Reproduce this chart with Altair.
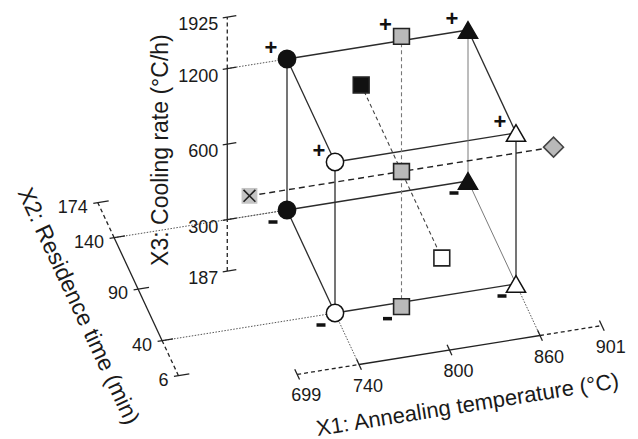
import math
import altair as alt
import pandas as pd

# ---------------- data ----------------
x1_ticks = [699, 740, 800, 860, 901]      # X1: Annealing temperature (°C)
x2_ticks = [6, 40, 90, 140, 174]          # X2: Residence time (min)
x3_ticks = [187, 300, 600, 1200, 1925]    # X3: Cooling rate (°C/h)

# design points, coded levels (X1, X2, X3) as drawn
pt_x1 = [-1, -1, -1, -1, 1, 1, 1, 1, 0, 0, 0, 0, 0, 1.68, -1.68]
pt_x2 = [1, 1, -1, -1, 1, 1, -1, -1, 0, 0, 0, 1.68, -1.68, 0, 0]
pt_x3 = [1, -1, 1, -1, 1, -1, 1, -1, 1.79, 0, -1.79, 0, 0, 0, 0]
pt_shape = ["circle", "circle", "circle", "circle",
            "triangle-up", "triangle-up", "triangle-up", "triangle-up",
            "square", "square", "square", "square", "square", "diamond", "cross-x"]
pt_fill = ["#111111", "#111111", "#ffffff", "#ffffff",
           "#111111", "#111111", "#ffffff", "#ffffff",
           "#b9b9b9", "#b9b9b9", "#b9b9b9", "#111111", "#ffffff", "#b9b9b9", "#c4c4c4"]

# ---------------- oblique projection (style) ----------------
O = (401.5, 171.5)
E1 = (90.5, -14.5)
E2 = (-24.0, -51.5)
E3 = (0.0, -75.5)


def proj(a, b, c):
    return (O[0] + a * E1[0] + b * E2[0] + c * E3[0],
            O[1] + a * E1[1] + b * E2[1] + c * E3[1])


def code1(v):
    return (v - 800) / 60.0


def code2(v):
    return (v - 90) / 50.0


def code3(v):
    return math.log2(v / 600.0)


AX3 = (-1.66, 1.0)   # X3 axis at (X1, X2)
AX2 = (-2.91, -1.0)  # X2 axis at (X1, X3)
AX1 = (-2.0, -1.0)   # X1 axis at (X2, X3)

segs = []


def seg(p, q, g):
    x, y = proj(*p)
    x2, y2 = proj(*q)
    segs.append(dict(x=x, y=y, x2=x2, y2=y2, g=g))


# cube edges
corners = [(a, b, c) for a in (-1, 1) for b in (-1, 1) for c in (-1, 1)]
light = {((1, 1, -1), (1, 1, 1)), ((1, -1, -1), (1, 1, -1))}
for i, p in enumerate(corners):
    for q in corners[i + 1:]:
        if sum(1 for u, v in zip(p, q) if u != v) == 1:
            seg(p, q, "light" if (p, q) in light or (q, p) in light else "edge")

# axial lines
seg((pt_x1[14], 0, 0), (pt_x1[13], 0, 0), "axial1")
seg((0, 0, pt_x3[8]), (0, 0, pt_x3[10]), "axial3")
seg((0, pt_x2[11], 0), (0, pt_x2[12], 0), "axial2")

# axes
seg((code1(740), AX1[0], AX1[1]), (code1(860), AX1[0], AX1[1]), "axis")
seg((code1(699), AX1[0], AX1[1]), (code1(740), AX1[0], AX1[1]), "axisdash")
seg((code1(860), AX1[0], AX1[1]), (code1(901), AX1[0], AX1[1]), "axisdash")
seg((AX2[0], code2(40), AX2[1]), (AX2[0], code2(140), AX2[1]), "axis")
seg((AX2[0], code2(6), AX2[1]), (AX2[0], code2(40), AX2[1]), "axisdash")
seg((AX2[0], code2(140), AX2[1]), (AX2[0], code2(174), AX2[1]), "axisdash")
seg((AX3[0], AX3[1], code3(300)), (AX3[0], AX3[1], code3(1200)), "axis")
seg((AX3[0], AX3[1], code3(187)), (AX3[0], AX3[1], code3(300)), "axisdash")
seg((AX3[0], AX3[1], code3(1200)), (AX3[0], AX3[1], code3(1925)), "axisdash")

# ticks
for v in x1_ticks:
    a = code1(v)
    seg((a, AX1[0] - 0.1, AX1[1]), (a, AX1[0] + 0.1, AX1[1]), "tick")
for v in x2_ticks:
    b = code2(v)
    seg((AX2[0] - 0.05, b, AX2[1]), (AX2[0] + 0.12, b, AX2[1]), "tick")
for v in x3_ticks:
    c = code3(v)
    seg((AX3[0] - 0.05, AX3[1], c), (AX3[0] + 0.1, AX3[1], c), "tick")

# dotted guide lines from axes to the cube
seg((-1, AX1[0], AX1[1]), (-1, -1, -1), "dot")
seg((1, AX1[0], AX1[1]), (1, -1, -1), "dot")
seg((AX2[0], 1, AX2[1]), (-1, 1, -1), "dot")
seg((AX2[0], -1, AX2[1]), (-1, -1, -1), "dot")
seg((AX3[0], AX3[1], 1), (-1, 1, 1), "dot")
seg((AX3[0], AX3[1], -1), (-1, 1, -1), "dot")

segdf = pd.DataFrame(segs)

pts = []
for a, b, c, s, f in zip(pt_x1, pt_x2, pt_x3, pt_shape, pt_fill):
    x, y = proj(a, b, c)
    pts.append(dict(x=x, y=y, shape=s, fill=f, c=c))
ptdf = pd.DataFrame(pts)

# tick labels
labs = []
for v in x1_ticks:
    x, y = proj(code1(v), AX1[0], AX1[1])
    labs.append(dict(x=x + 9, y=y + 22, t=str(v), al="center"))
for v in x2_ticks:
    x, y = proj(AX2[0], code2(v), AX2[1])
    labs.append(dict(x=x - 10, y=y + 5, t=str(v), al="right"))
for v in x3_ticks:
    x, y = proj(AX3[0], AX3[1], code3(v))
    labs.append(dict(x=x - 9, y=y + 8, t=str(v), al="right"))
labdf = pd.DataFrame(labs)

# +/- level marks for the points off the mid plane of X3
plus = ptdf[ptdf.c > 0].assign(x=lambda d: d.x - 16, y=lambda d: d.y - 11, t="+")
minus = ptdf[ptdf.c < 0].assign(xa=lambda d: d.x - 18.5, xb=lambda d: d.x - 9.5,
                                 y=lambda d: d.y + 12)

# axis titles
t1x, t1y = proj(0, AX1[0], AX1[1])
t2x, t2y = proj(AX2[0], 0, AX2[1])
t3x, t3y = proj(AX3[0], AX3[1], 0)
titles = pd.DataFrame([
    dict(x=t1x + 18, y=t1y + 55, t="X1: Annealing temperature (°C)",
         ang=360 - math.degrees(math.atan2(-E1[1], E1[0])), fs=22),
    dict(x=t2x - 60, y=t2y + 17, t="X2: Residence time (min)",
         ang=math.degrees(math.atan2(-E2[1], -E2[0])), fs=23),
    dict(x=t3x - 66, y=t3y + 6, t="X3: Cooling rate (°C/h)", ang=270, fs=23),
])

W, H = 638, 439
X = alt.X("x:Q", scale=alt.Scale(domain=[0, W], nice=False, zero=False), axis=None)
Y = alt.Y("y:Q", scale=alt.Scale(domain=[H, 0], nice=False, zero=False), axis=None)
FONT = "Liberation Sans"


def rules(g, color, width, dash=None):
    kw = dict(color=color, strokeWidth=width)
    if dash:
        kw["strokeDash"] = dash
    return alt.Chart(segdf[segdf.g == g]).mark_rule(**kw).encode(
        x=X, y=Y, x2="x2:Q", y2="y2:Q")


layers = [
    rules("dot", "#555555", 1.0, [1.5, 1.5]),
    rules("edge", "#2b2b2b", 1.3),
    rules("light", "#7a7a7a", 1.0),
    rules("axial3", "#777777", 1.1, [4, 3]),
    rules("axial2", "#444444", 1.1, [4, 3]),
    rules("axial1", "#222222", 1.4, [6, 4]),
    rules("axis", "#222222", 1.3),
    rules("axisdash", "#222222", 1.3, [4, 3]),
    rules("tick", "#222222", 1.3),
]

main = ptdf[ptdf["shape"] != "cross-x"]
xm = ptdf[ptdf["shape"] == "cross-x"]
layers.append(alt.Chart(main[main["shape"] == "circle"]).mark_point(
    filled=True, size=300, stroke="#111111", strokeWidth=1.5, opacity=1).encode(
    x=X, y=Y, shape=alt.Shape("shape:N", scale=None), fill=alt.Fill("fill:N", scale=None)))
layers.append(alt.Chart(main[main["shape"] == "triangle-up"]).mark_point(
    filled=True, size=370, stroke="#111111", strokeWidth=1.5, opacity=1).encode(
    x=X, y=Y, shape=alt.Shape("shape:N", scale=None), fill=alt.Fill("fill:N", scale=None)))
layers.append(alt.Chart(main[main["shape"] == "square"]).mark_point(
    filled=True, size=250, stroke="#222222", strokeWidth=1.6, opacity=1).encode(
    x=X, y=Y, shape=alt.Shape("shape:N", scale=None), fill=alt.Fill("fill:N", scale=None)))
layers.append(alt.Chart(main[main["shape"] == "diamond"]).mark_point(
    filled=True, size=400, stroke="#444444", strokeWidth=1.5, opacity=1).encode(
    x=X, y=Y, shape=alt.Shape("shape:N", scale=None), fill=alt.Fill("fill:N", scale=None)))
layers.append(alt.Chart(xm).mark_point(
    filled=True, size=250, shape="square", strokeWidth=0, opacity=1).encode(
    x=X, y=Y, fill=alt.Fill("fill:N", scale=None)))
layers.append(alt.Chart(xm).mark_point(
    filled=False, size=250, shape="M-0.75,-0.75L0.75,0.75M-0.75,0.75L0.75,-0.75",
    stroke="#222222", strokeWidth=1.6, opacity=1).encode(x=X, y=Y))

layers.append(alt.Chart(plus).mark_text(
    font=FONT, fontSize=22, fontWeight="bold", color="#111111", baseline="middle").encode(
    x=X, y=Y, text="t:N"))
layers.append(alt.Chart(minus).mark_rule(color="#111111", strokeWidth=3.5).encode(
    x=alt.X("xa:Q", scale=alt.Scale(domain=[0, W], nice=False, zero=False), axis=None),
    x2="xb:Q", y=Y))

for al in ("center", "right"):
    layers.append(alt.Chart(labdf[labdf.al == al]).mark_text(
        font=FONT, fontSize=18, color="#1a1a1a", align=al, baseline="middle").encode(
        x=X, y=Y, text="t:N"))

for _, r in titles.iterrows():
    layers.append(alt.Chart(titles[titles.t == r.t]).mark_text(
        font=FONT, fontSize=float(r.fs), color="#1a1a1a", align="center", baseline="middle",
        angle=float(r.ang)).encode(x=X, y=Y, text="t:N"))

chart = alt.layer(*layers).properties(
    width=W, height=H, padding=0, autosize="none"
).configure_view(stroke=None)

chart.save("out.html", embed_options={"renderer": "svg", "actions": False})
